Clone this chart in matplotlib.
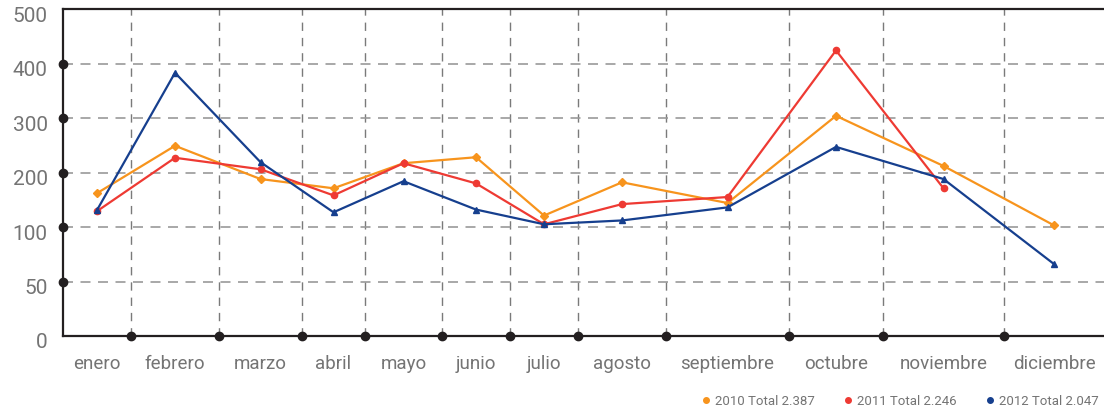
import numpy as np
import matplotlib
matplotlib.use('Agg')
import matplotlib.pyplot as plt
from matplotlib.lines import Line2D
from matplotlib.transforms import ScaledTranslation

months = ['enero', 'febrero', 'marzo', 'abril', 'mayo', 'junio', 'julio',
          'agosto', 'septiembre', 'octubre', 'noviembre', 'diciembre']
s2010 = [162, 249, 188, 171, 217, 228, 121, 182, 144, 304, 212, 103]
s2011 = [129, 227, 206, 158, 217, 180, 105, 142, 155, 424, 171, np.nan]
s2012 = [131, 383, 219, 127, 184, 132, 105, 112, 136, 247, 188, 66]
y_ticks = [0, 50, 100, 200, 300, 400, 500]
legend_labels = ['2010 Total 2.387', '2011 Total 2.246', '2012 Total 2.047']

# column edges of the month slots (uneven widths, like the original)
edges = np.array([63, 131, 219, 302, 365, 442, 510, 578, 666, 789, 883, 1004, 1104])
centers = (edges[:-1] + edges[1:]) / 2

orange = '#f7941d'
red = '#ee3a33'
blue = '#163f8e'
grey = '#747474'
dark = '#231f20'


# y axis: 0-100 in steps of 50, then steps of 100, all evenly spaced
def fwd(v):
    v = np.asarray(v, dtype=float)
    return np.where(v <= 100, v / 50, 2 + (v - 100) / 100)


def inv(u):
    u = np.asarray(u, dtype=float)
    return np.where(u <= 2, u * 50, 100 + (u - 2) * 100)


plt.rcParams['font.family'] = ['Roboto', 'DejaVu Sans']

fig = plt.figure(figsize=(11.04, 4.14), dpi=100)
ax = fig.add_axes([63 / 1104, 77 / 414, 1 - 63 / 1104, 327 / 414])
ax.set_yscale('function', functions=(fwd, inv))
ax.set_xlim(edges[0], edges[-1])
ax.set_ylim(0, 500)

# grid
ax.set_yticks(y_ticks)
ax.grid(axis='y', color='#999999', linestyle=(0, (6, 4.5)), linewidth=1.2)
for e in edges[1:-1]:
    ax.axvline(e, color='#7a7a7a', linestyle=(0, (6, 5)), linewidth=1.0, zorder=0.5)

ax.plot(centers, s2010, color=orange, lw=1.6, marker='D', ms=4.5, zorder=3)
ax.plot(centers, s2011, color=red, lw=1.6, marker='o', ms=4.5, zorder=3)
ax.plot(centers, s2012, color=blue, lw=1.6, marker='^', ms=5, zorder=3)

# black dots on the axes
ax.plot([edges[0]] * 5, y_ticks[1:-1], 'o', color=dark, ms=6, clip_on=False, zorder=5)
ax.plot(edges[1:-1], [0] * (len(edges) - 2), 'o', color=dark, ms=6, clip_on=False, zorder=5)

for side in ['left', 'bottom', 'top']:
    ax.spines[side].set_color(dark)
    ax.spines[side].set_linewidth(1.6)
ax.spines['right'].set_visible(False)

ax.set_xticks(centers)
ax.set_xticklabels(months)
ax.tick_params(axis='x', length=0, pad=13, labelsize=13.5, labelcolor=grey)
ax.tick_params(axis='y', length=0, pad=11, labelsize=15, labelcolor=grey)
ax.set_yticklabels([str(t) for t in y_ticks])
off = ScaledTranslation(0, -4 / 100, fig.dpi_scale_trans)
for lab in ax.get_yticklabels():
    lab.set_transform(lab.get_transform() + off)

handles = [Line2D([], [], ls='', marker='o', ms=4, color=c) for c in (orange, red, blue)]
fig.legend(handles, legend_labels, loc='lower right', bbox_to_anchor=(1.006, -0.015),
           ncol=3, frameon=False, fontsize=9.5, labelcolor=grey,
           handlelength=0.6, handletextpad=0.4, columnspacing=2.2)

fig.savefig('out.png', dpi=100)
